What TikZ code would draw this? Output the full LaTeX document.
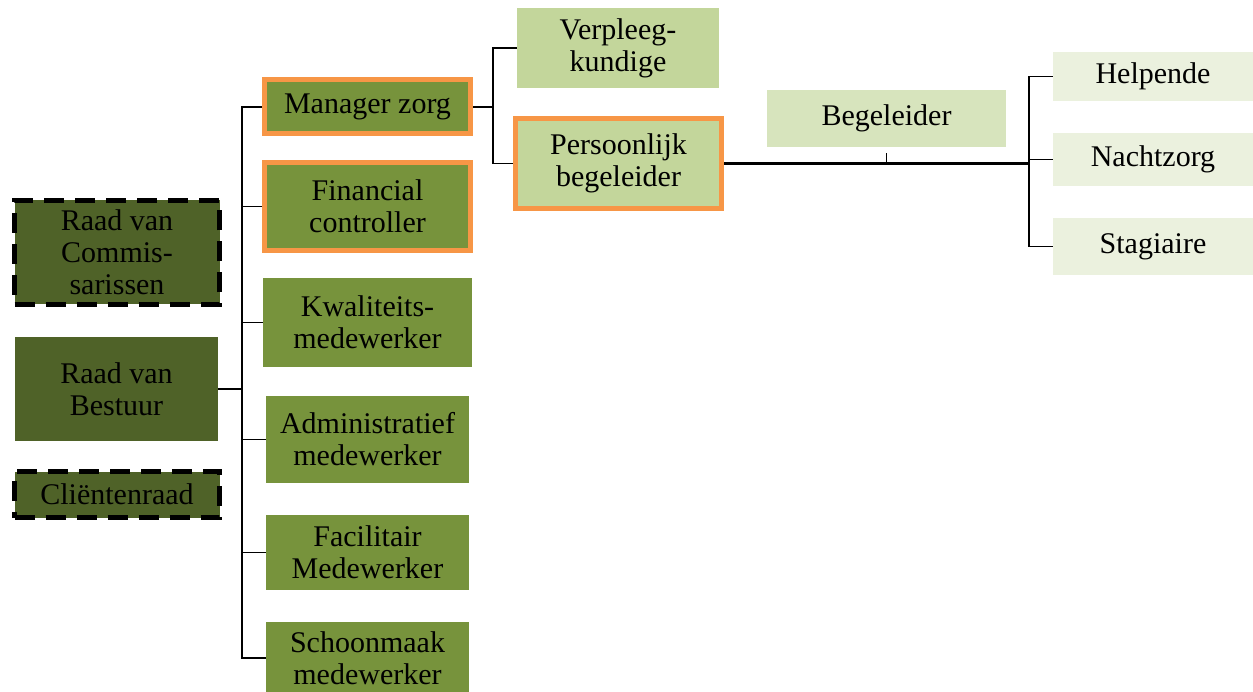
\documentclass[tikz,border=0pt]{standalone}
\usepackage{fontspec}
\setmainfont{Liberation Serif}
\usetikzlibrary{positioning}
\definecolor{donker}{HTML}{4F6228}
\definecolor{midden}{HTML}{77933C}
\definecolor{licht}{HTML}{C3D69B}
\definecolor{lichter}{HTML}{D7E4BD}
\definecolor{lichtst}{HTML}{EBF1DE}
\definecolor{oranje}{HTML}{F79646}

\begin{document}
\begin{tikzpicture}[x=1pt, y=-1pt,
  box/.style={align=center, inner sep=0pt, font=\fontsize{30}{32}\selectfont},
  raad/.style={box, fill=donker, draw=black, line width=4.5pt, dash pattern=on 20pt off 11pt},
  afd/.style={box, fill=midden},
  uit/.style={draw=oranje, line width=5pt},
  lijn/.style={line width=1.5pt}]
  \useasboundingbox (0,0) rectangle (1253,692);
  % linkerkolom
  \node (rvc) [raad, minimum width=205pt, minimum height=104pt] at (117,252.5) {Raad van\\Commis-\\sarissen};
  \node (rvb) [box, fill=donker, minimum width=203pt, minimum height=104pt] at (116.5,389) {Raad van\\Bestuur};
  \node (cr) [raad, minimum width=205pt, minimum height=46pt] at (117,494.5) {Cliëntenraad};
  % afdelingen
  \node (mz) [afd, uit, minimum width=206pt, minimum height=54pt] at (367.5,107) {Manager zorg};
  \node (fc) [afd, uit, minimum width=206pt, minimum height=88pt] at (367.5,206.5) {Financial\\controller};
  \node (kw) [afd, minimum width=209pt, minimum height=89pt] at (367.5,322.5) {Kwaliteits-\\medewerker};
  \node (adm) [afd, minimum width=203pt, minimum height=87pt] at (367.5,439.5) {Administratief\\medewerker};
  \node (fac) [afd, minimum width=203pt, minimum height=75pt] at (367.5,552.5) {Facilitair\\Medewerker};
  \node (sm) [afd, minimum width=203pt, minimum height=72pt] at (367.5,658) {Schoonmaak\\medewerker};
  % zorg
  \node (vp) [box, fill=licht, minimum width=202pt, minimum height=80pt] at (618,48) {Verpleeg-\\kundige};
  \node (pb) [box, fill=licht, uit, minimum width=206pt, minimum height=90pt] at (618.5,163.5) {Persoonlijk\\begeleider};
  \node (bg) [box, fill=lichter, minimum width=239pt, minimum height=57pt] at (886.5,118.5) {Begeleider};
  \node (hp) [box, fill=lichtst, minimum width=200pt, minimum height=49pt] at (1153,76.5) {Helpende};
  \node (nz) [box, fill=lichtst, minimum width=200pt, minimum height=53pt] at (1153,159.5) {Nachtzorg};
  \node (st) [box, fill=lichtst, minimum width=200pt, minimum height=57pt] at (1153,246.5) {Stagiaire};

  \coordinate (b1) at (242,0);
  \coordinate (b2) at (493,0);
  \coordinate (b3) at (1029,0);
  \draw[line width=2pt] (rvb.east) -- (rvb.east -| b1);
  \draw[lijn] (mz.west) -- (mz.west -| b1) -- (sm.west -| b1) -- (sm.west);
  \foreach \n in {fc,kw,adm,fac}
    \draw[lijn] (\n.west) -- (\n.west -| b1);
  \draw[lijn] (mz.east) -- (mz.east -| b2);
  \draw[lijn] (vp.west) -- (vp.west -| b2) -- (pb.west -| b2) -- (pb.west);
  \draw[line width=2.5pt] (pb.east) -- (pb.east -| b3);
  \draw[lijn] (bg.south |- pb.east) -- ([yshift=-6pt]bg.south);
  \draw[lijn] (hp.west) -- (hp.west -| b3) -- (st.west -| b3) -- (st.west);
  \draw[lijn] (nz.west) -- (nz.west -| b3);
\end{tikzpicture}
\end{document}
